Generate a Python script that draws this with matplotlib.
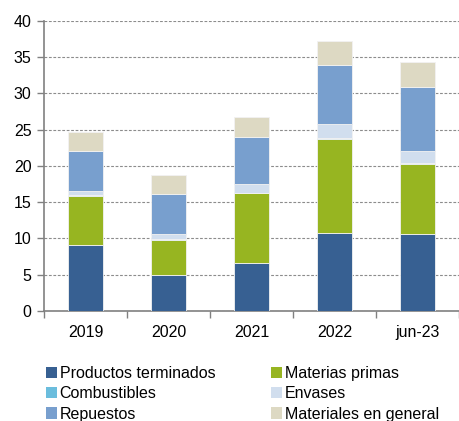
import matplotlib
matplotlib.use("Agg")
import matplotlib.pyplot as plt
import numpy as np
from matplotlib.patches import Patch

categories = ["2019", "2020", "2021", "2022", "jun-23"]
productos_terminados = [9.1, 4.95, 6.6, 10.8, 10.6]
materias_primas = [6.75, 4.9, 9.6, 12.85, 9.7]
combustibles = [0.1, 0.1, 0.1, 0.2, 0.15]
envases = [0.6, 0.65, 1.25, 1.85, 1.55]
repuestos = [5.5, 5.55, 6.4, 8.15, 8.85]
materiales_general = [2.6, 2.65, 2.75, 3.4, 3.45]

series = [
    ("Productos terminados", productos_terminados, "#376092"),
    ("Materias primas", materias_primas, "#97B521"),
    ("Combustibles", combustibles, "#6BBDDD"),
    ("Envases", envases, "#D1DEEE"),
    ("Repuestos", repuestos, "#789FCE"),
    ("Materiales en general", materiales_general, "#DDD9C3"),
]

plt.rcParams['font.family'] = ['Liberation Sans', 'DejaVu Sans']
FS = 11.5

fig = plt.figure(figsize=(4.59, 4.21), dpi=100)
ax = fig.add_axes([44/459, (421-311)/421, 1 - 44/459, (311-20.7)/421])

x = np.arange(len(categories))
bottom = np.zeros(len(categories))
for name, vals, col in series:
    ax.bar(x, vals, width=0.41, bottom=bottom, color=col, edgecolor="#F2F2F2",
           linewidth=0.6, label=name, zorder=3)
    bottom += np.array(vals)

ax.set_xlim(-0.5, 4.5)
ax.set_ylim(0, 40)
ax.set_yticks(range(0, 41, 5))
ax.yaxis.grid(True, linestyle=(0, (2.5, 1.5)), color="#8C8C8C", linewidth=0.8, zorder=0)
ax.set_axisbelow(True)

ax.set_xticks(x)
ax.set_xticklabels(categories)
ax.set_xticks(np.arange(-0.5, 4.6, 1), minor=True)
ax.tick_params(axis="x", which="major", length=0, pad=10, labelsize=FS)
ax.tick_params(axis="x", which="minor", length=5, width=1, color="#808080", direction="out")
ax.tick_params(axis="y", length=5, width=1, color="#808080", direction="out", pad=4, labelsize=FS)

for s in ["top", "right"]:
    ax.spines[s].set_visible(False)
for s in ["left", "bottom"]:
    ax.spines[s].set_color("#808080")
    ax.spines[s].set_linewidth(1.2)

handles = [Patch(facecolor=c, edgecolor="none") for _, _, c in series]
labels = [n for n, _, _ in series]
order = [0, 2, 4, 1, 3, 5]
fig.legend([handles[i] for i in order], [labels[i] for i in order], ncol=2,
           loc="upper left", bbox_to_anchor=(46/459, 1 - 366/421), frameon=False,
           fontsize=FS, handlelength=0.7, handleheight=0.7, handletextpad=0.15,
           labelspacing=0.33, columnspacing=3.5, borderpad=0, borderaxespad=0)

fig.savefig("out.png", dpi=100)
